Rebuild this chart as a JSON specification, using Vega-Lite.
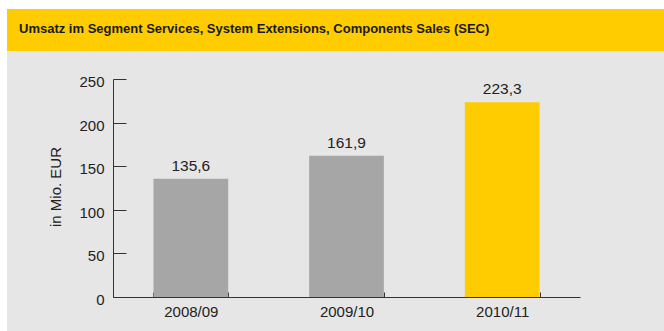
{
  "$schema": "https://vega.github.io/schema/vega-lite/v6.json",
  "background": "white",
  "padding": {"left": 7, "top": 9, "right": 0, "bottom": 0},
  "autosize": {"type": "pad"},
  "spacing": 0,
  "config": {
    "locale": {"number": {"decimal": ",", "thousands": ".", "grouping": [3], "currency": ["", " €"]}},
    "font": "Liberation Sans",
    "view": {"stroke": null},
    "concat": {"spacing": 0}
  },
  "vconcat": [
    {
      "width": 657,
      "height": 42,
      "view": {"fill": "#ffcc00", "stroke": null},
      "title": {
        "text": "Umsatz im Segment Services, System Extensions, Components Sales (SEC)",
        "anchor": "start",
        "frame": "group",
        "offset": -37,
        "dx": 12,
        "baseline": "alphabetic",
        "font": "Liberation Sans",
        "fontSize": 13,
        "fontWeight": "bold",
        "color": "#1a1a1a"
      },
      "data": {"values": []},
      "mark": "text"
    },
    {
      "width": 657,
      "height": 280,
      "view": {"fill": "#e6e6e6", "stroke": null},
      "data": {
        "values": [
          {"jahr": "2008/09", "umsatz": 135.6, "aktuell": "nein"},
          {"jahr": "2009/10", "umsatz": 161.9, "aktuell": "nein"},
          {"jahr": "2010/11", "umsatz": 223.3, "aktuell": "ja"}
        ]
      },
      "encoding": {
        "x": {
          "field": "jahr",
          "type": "nominal",
          "sort": null,
          "scale": {"range": [106, 573], "paddingInner": 0.52, "paddingOuter": 0.26},
          "axis": {
            "title": null,
            "orient": "bottom",
            "offset": -34,
            "tickBand": "extent",
            "tickSize": -5,
            "labelPadding": 12,
            "labelAngle": 0,
            "labelFontSize": 15,
            "labelColor": "#222222",
            "domainColor": "#333333",
            "tickColor": "#333333",
            "grid": false
          }
        },
        "y": {
          "field": "umsatz",
          "type": "quantitative",
          "scale": {"domain": [0, 250], "range": [246, 28], "nice": false},
          "axis": {
            "title": "in Mio. EUR",
            "offset": -106,
            "values": [0, 50, 100, 150, 200, 250],
            "tickSize": -13,
            "labelPadding": 22,
            "labelOffset": 2.5,
            "labelFontSize": 15,
            "labelColor": "#222222",
            "domainColor": "#333333",
            "tickColor": "#333333",
            "grid": false,
            "titleX": -58,
            "titleY": 135.5,
            "titleAngle": -90,
            "titleAlign": "center",
            "titleBaseline": "middle",
            "titleFontSize": 15,
            "titleFontWeight": "normal",
            "titleColor": "#222222"
          }
        }
      },
      "layer": [
        {
          "mark": {"type": "bar"},
          "encoding": {
            "color": {
              "field": "aktuell",
              "type": "nominal",
              "scale": {"domain": ["nein", "ja"], "range": ["#a6a6a6", "#ffcc00"]},
              "legend": null
            }
          }
        },
        {
          "mark": {"type": "text", "baseline": "alphabetic", "dy": -8, "fontSize": 15.5, "color": "#222222"},
          "encoding": {
            "text": {"field": "umsatz", "type": "quantitative", "format": ".1f"}
          }
        }
      ]
    }
  ]
}
